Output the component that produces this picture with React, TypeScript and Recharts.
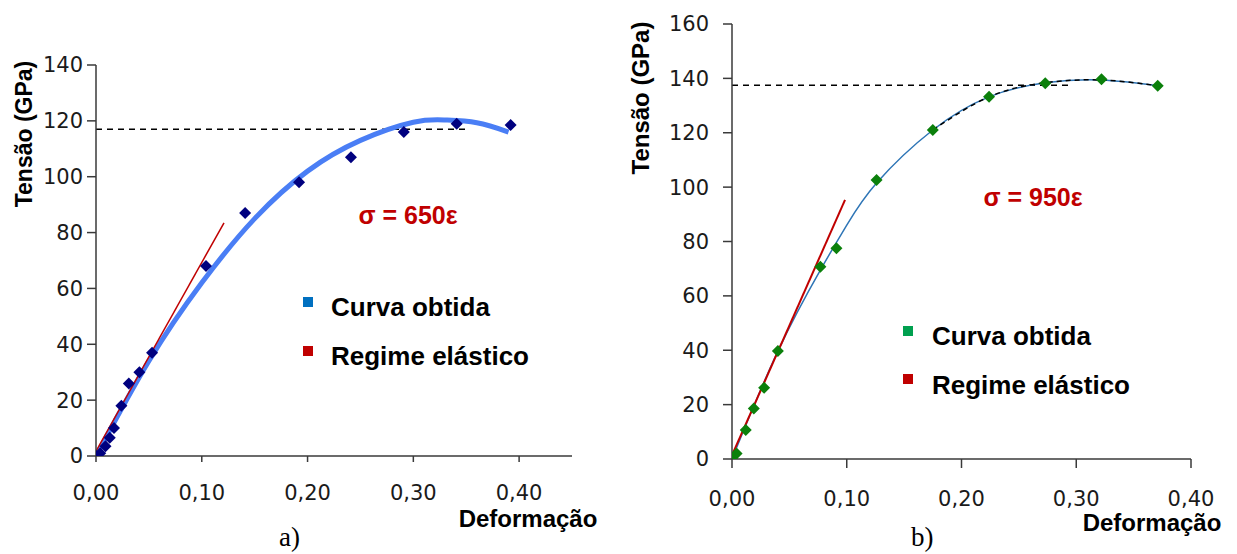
import { ComposedChart, Line, Scatter, XAxis, YAxis } from 'recharts';

// a) measured points (Deformação, Tensão)
const pointsA = [
  { x: 0, y: 0 }, { x: 0.004, y: 1 }, { x: 0.009, y: 3.5 }, { x: 0.013, y: 6.5 },
  { x: 0.017, y: 10 }, { x: 0.024, y: 18 }, { x: 0.031, y: 26 }, { x: 0.041, y: 30 },
  { x: 0.053, y: 37 }, { x: 0.104, y: 68 }, { x: 0.141, y: 87 }, { x: 0.192, y: 98 },
  { x: 0.241, y: 107 }, { x: 0.291, y: 116 }, { x: 0.341, y: 119 }, { x: 0.392, y: 118.5 },
];
// a) fitted curve
const curveA = [
  { x: 0, y: 0 }, { x: 0.05, y: 34 }, { x: 0.1, y: 62 }, { x: 0.15, y: 85 },
  { x: 0.2, y: 102 }, { x: 0.25, y: 113 }, { x: 0.3, y: 119.5 }, { x: 0.33, y: 120.3 },
  { x: 0.36, y: 119.3 }, { x: 0.39, y: 116 },
];
const elasticA = [{ x: 0, y: 1.7 }, { x: 0.121, y: 83.5 }];
const limitA = [{ x: 0, y: 117 }, { x: 0.353, y: 117 }];

// b) measured points
const pointsB = [
  { x: 0, y: 0 }, { x: 0.004, y: 2 }, { x: 0.012, y: 10.7 }, { x: 0.019, y: 18.6 },
  { x: 0.028, y: 26.2 }, { x: 0.04, y: 39.7 }, { x: 0.077, y: 70.7 }, { x: 0.091, y: 77.5 },
  { x: 0.126, y: 102.6 }, { x: 0.175, y: 121 }, { x: 0.224, y: 133.2 }, { x: 0.273, y: 138.2 },
  { x: 0.322, y: 139.7 }, { x: 0.371, y: 137.3 },
];
// b) smooth curve through the points
const curveB = [
  { x: 0, y: 0 }, { x: 0.04, y: 39.7 }, { x: 0.077, y: 69.5 }, { x: 0.1, y: 86 },
  { x: 0.126, y: 101.5 }, { x: 0.175, y: 121 }, { x: 0.224, y: 133.2 }, { x: 0.273, y: 138.4 },
  { x: 0.322, y: 139.4 }, { x: 0.371, y: 137.3 },
];
const elasticB = [{ x: 0, y: 1.4 }, { x: 0.0985, y: 95.3 }];
const limitB = [{ x: 0, y: 137.5 }, { x: 0.293, y: 137.5 }];

const xTicksA = [0, 0.1, 0.2, 0.3, 0.4];
const yTicksA = [0, 20, 40, 60, 80, 100, 120, 140];
const xTicksB = [0, 0.1, 0.2, 0.3, 0.4];
const yTicksB = [0, 20, 40, 60, 80, 100, 120, 140, 160];

const fmtX = (v: number) => v.toFixed(2).replace('.', ',');
const tickFont = { fontFamily: 'DejaVu Sans', fontSize: 21, fill: '#1a1a1a' };
const axisLine = { stroke: '#3a3a3a', strokeWidth: 1.5 };
const bold = "'Liberation Sans', Arial, sans-serif";

const diamond = (color: string, r: number) => (props: any) => {
  const { cx, cy } = props;
  if (cx == null || cy == null) return <g />;
  return <polygon points={`${cx},${cy - r} ${cx + r},${cy} ${cx},${cy + r} ${cx - r},${cy}`} fill={color} />;
};

function Label({ x, y, text, size, color = '#000', rotate = false, anchor = 'left' }: any) {
  const style: any = {
    position: 'absolute', left: x, top: y, fontFamily: bold, fontWeight: 'bold', fontSize: size,
    color, whiteSpace: 'nowrap', lineHeight: 1,
    transform: rotate ? 'translate(-50%,-50%) rotate(-90deg)' : anchor === 'center' ? 'translate(-50%,-50%)' : 'translate(0,-50%)',
  };
  return <div style={style}>{text}</div>;
}

function Swatch({ x, y, color }: any) {
  return <div style={{ position: 'absolute', left: x - 5, top: y - 5, width: 10, height: 10, background: color }} />;
}

export default function App() {
  return (
    <div style={{ position: 'absolute', left: 0, top: 0, width: 1237, height: 554, background: '#fff', overflow: 'hidden' }}>
      <div style={{ position: 'absolute', left: 0, top: 0 }}>
        <ComposedChart width={600} height={554} margin={{ top: 65, right: 28, bottom: 0, left: 0 }}>
          <XAxis type="number" dataKey="x" domain={[0, 0.45]} ticks={xTicksA} tickFormatter={fmtX} height={98}
            axisLine={axisLine} tickLine={axisLine} tickSize={6} tickMargin={23} tick={tickFont} allowDataOverflow />
          <YAxis type="number" dataKey="y" domain={[0, 140]} ticks={yTicksA} width={96}
            axisLine={axisLine} tickLine={axisLine} tickSize={9} tickMargin={4} tick={tickFont} allowDataOverflow />
          <Line data={limitA} dataKey="y" type="linear" stroke="#000" strokeWidth={1.5} strokeDasharray="6 5" dot={false} isAnimationActive={false} />
          <Line data={curveA} dataKey="y" type="natural" stroke="#4a7ef5" strokeWidth={5} dot={false} isAnimationActive={false} />
          <Line data={elasticA} dataKey="y" type="linear" stroke="#c00000" strokeWidth={1.5} dot={false} isAnimationActive={false} />
          <Scatter data={pointsA} dataKey="y" fill="#00007f" shape={diamond('#00007f', 6)} isAnimationActive={false} />
        </ComposedChart>
      </div>
      <div style={{ position: 'absolute', left: 620, top: 0 }}>
        <ComposedChart width={617} height={554} margin={{ top: 24, right: 46, bottom: 0, left: 0 }}>
          <XAxis type="number" dataKey="x" domain={[0, 0.4]} ticks={xTicksB} tickFormatter={fmtX} height={95}
            axisLine={axisLine} tickLine={axisLine} tickSize={9} tickMargin={23} tick={tickFont} allowDataOverflow />
          <YAxis type="number" dataKey="y" domain={[0, 160]} ticks={yTicksB} width={112}
            axisLine={axisLine} tickLine={axisLine} tickSize={9} tickMargin={14} tick={tickFont} allowDataOverflow />
          <Line data={limitB} dataKey="y" type="linear" stroke="#000" strokeWidth={1.5} strokeDasharray="6 5" dot={false} isAnimationActive={false} />
          <Line data={curveB} dataKey="y" type="natural" stroke="#2e75b6" strokeWidth={1.5} dot={false} isAnimationActive={false} />
          <Line data={curveB.slice(5)} dataKey="y" type="natural" stroke="#000" strokeWidth={1.5} strokeDasharray="5 4" dot={false} isAnimationActive={false} />
          <Line data={elasticB} dataKey="y" type="linear" stroke="#c00000" strokeWidth={2} dot={false} isAnimationActive={false} />
          <Scatter data={pointsB} dataKey="y" fill="#0b800b" shape={diamond('#0b800b', 6)} isAnimationActive={false} />
        </ComposedChart>
      </div>

      <Label x={24} y={134} text="Tensão (GPa)" size={23} rotate />
      <Label x={528} y={519} text="Deformação" size={24} anchor="center" />
      <Label x={408} y={215} text="σ = 650ε" size={25} color="#c00000" anchor="center" />
      <Swatch x={308} y={302} color="#0070c0" />
      <Swatch x={308} y={351} color="#c00000" />
      <Label x={331} y={307} text="Curva obtida" size={26} />
      <Label x={331} y={356} text="Regime elástico" size={26} />

      <Label x={641} y={98} text="Tensão (GPa)" size={24} rotate />
      <Label x={1152} y={523} text="Deformação" size={24} anchor="center" />
      <Label x={1033} y={197} text="σ = 950ε" size={25} color="#c00000" anchor="center" />
      <Swatch x={908} y={331} color="#00a04f" />
      <Swatch x={908} y={379} color="#c00000" />
      <Label x={932} y={336} text="Curva obtida" size={26} />
      <Label x={932} y={385} text="Regime elástico" size={26} />

      <div style={{ position: 'absolute', left: 279, top: 524, fontFamily: "'Liberation Serif', serif", fontSize: 27, lineHeight: 1 }}>a)</div>
      <div style={{ position: 'absolute', left: 911, top: 524, fontFamily: "'Liberation Serif', serif", fontSize: 27, lineHeight: 1 }}>b)</div>
    </div>
  );
}
